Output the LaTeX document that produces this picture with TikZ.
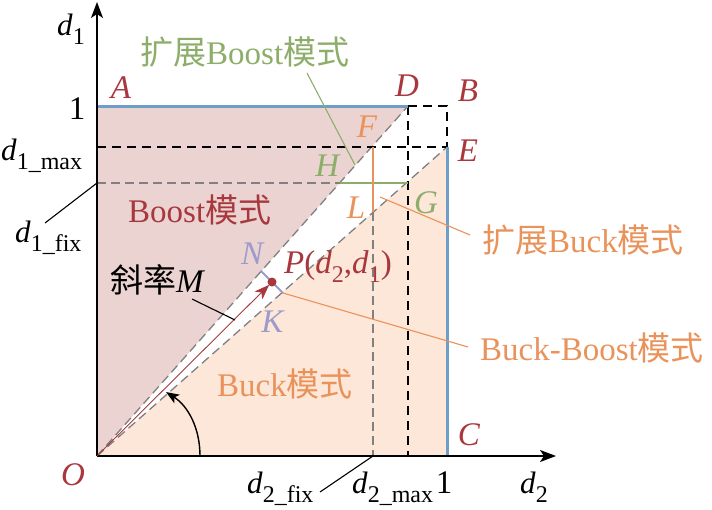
\documentclass[tikz,border=0pt]{standalone}
\usepackage{fontspec}
\setmainfont{Liberation Serif}
\newfontfamily\cjk{Noto Sans CJK SC}
\usetikzlibrary{arrows.meta}
\definecolor{bred}{HTML}{A8383E}
\definecolor{bgreen}{HTML}{8DAE6A}
\definecolor{borange}{HTML}{E9925A}
\definecolor{bpurple}{HTML}{9C9BCB}
\definecolor{bblue}{HTML}{6E9DC7}
\definecolor{fboost}{HTML}{EBD3D1}
\definecolor{fbuck}{HTML}{FCE7D9}
\definecolor{dgray}{HTML}{808080}
\newcommand{\vv}[2]{\textit{#1}\raisebox{-0.3em}{\fontsize{24}{24}\selectfont #2}}
\begin{document}
\begin{tikzpicture}[x=1pt,y=-1pt,
  lbl/.style={inner sep=0pt, font=\fontsize{33}{33}\selectfont},
  dvar/.style={inner sep=0pt, font=\fontsize{31}{31}\selectfont},
  graydash/.style={draw=dgray, line width=1.3pt, dash pattern=on 9pt off 5pt},
  blackdash/.style={draw=black, line width=1.5pt, dash pattern=on 9pt off 6pt},
  blueline/.style={draw=bblue, line width=3pt},
  axisline/.style={draw=black, line width=1.5pt, -{Stealth[length=16pt,width=12pt,inset=4pt]}},
  leader/.style={line width=1.1pt}]
\useasboundingbox (0,0) rectangle (712,509);
% key points
\coordinate (O) at (97,456);
\coordinate (A) at (97,106);
\coordinate (D) at (408,106);
\coordinate (B) at (447,106);
\coordinate (E) at (447,147);
\coordinate (C) at (447,456);
\coordinate (Ymax) at (97,147);
\coordinate (Yfix) at (97,183);
\coordinate (H) at (340,183);
\coordinate (G) at (408,183);
\coordinate (F) at (373,147);
\coordinate (L) at (373,212);
\coordinate (Xfix) at (373,456);
\coordinate (Xmax) at (408,456);
\coordinate (P) at (272,282);
\coordinate (N) at (260.5,270.5);
\coordinate (K) at (283,293);
\coordinate (Ytop) at (97,2);
\coordinate (Xend) at (556,456);
% regions
\fill[fboost] (O) -- (A) -- (D) -- cycle;
\fill[fbuck] (O) -- (E) -- (C) -- cycle;
% gray dashed
\draw[graydash] (O) -- (D);
\draw[graydash] (O) -- (E);
\draw[graydash] (Yfix) -- (H);
\draw[graydash] (L) -- (Xfix);
% black dashed
\draw[blackdash] (Ymax) -- (E);
\draw[blackdash] (D) -- (Xmax);
\draw[blackdash] (D) -- (B) -- (E);
% mode lines
\draw[draw=bgreen, line width=2.6pt] (H) -- (G);
\draw[draw=borange, line width=2.6pt] (F) -- (L);
% blue borders
\draw[blueline] (A) -- (D);
\draw[blueline] (E) -- (C);
% axes
\draw[axisline] (O) -- (Ytop);
\draw[axisline] (O) -- (Xend);
% slope arrow and point
\draw[draw=bred, line width=0.9pt, shorten >=4pt, -{Stealth[length=15pt,width=11pt,inset=4pt]}] (O) -- (P);
\draw[draw=bpurple, line width=1.8pt] (N) -- (K);
\fill[bred] (P) circle (4.5pt);
% angle arc
\coordinate (arcS) at (200,456);
\coordinate (arcE) at (166,392);
\draw[line width=1.4pt, -{Stealth[length=13pt,width=10pt,inset=3pt]}] (arcS) .. controls (200,428) and (188,406) .. (arcE);
% leaders
\coordinate (gl1) at (307,73);
\coordinate (gl2) at (355,165);
\draw[bgreen, leader] (gl1) -- (gl2);
\coordinate (ob1) at (380,197);
\coordinate (ob2) at (470,235);
\draw[borange, leader] (ob1) -- (ob2);
\coordinate (bb2) at (468,347);
\draw[borange, leader] (K) -- (bb2);
\coordinate (m1) at (192,299);
\coordinate (m2) at (235,320);
\draw[black, leader] (m1) -- (m2);
\coordinate (f1) at (45,223);
\draw[black, leader] (f1) -- (Yfix);
\coordinate (f2) at (320,492);
\draw[black, leader] (f2) -- (Xfix);
% point labels
\node[lbl, text=bred] (lA) at (121,88) {\textit{A}};
\node[lbl, text=bred] (lD) at (407,86) {\textit{D}};
\node[lbl, text=bred] (lB) at (468,91) {\textit{B}};
\node[lbl, text=bred] (lE) at (468,151) {\textit{E}};
\node[lbl, text=bred] (lC) at (469,435) {\textit{C}};
\node[lbl, text=bred] (lO) at (73,475) {\textit{O}};
\node[lbl, text=borange] (lF) at (367,127) {\textit{F}};
\node[lbl, text=bgreen] (lH) at (328,166) {\textit{H}};
\node[lbl, text=borange] (lL) at (356,208) {\textit{L}};
\node[lbl, text=bgreen] (lG) at (426,203) {\textit{G}};
\node[lbl, text=bpurple] (lN) at (253,254) {\textit{N}};
\node[lbl, text=bpurple] (lK) at (273,322) {\textit{K}};
\node[lbl, text=bred, anchor=base west] (lP) at (284,273) {\textit{P}(\vv{d}{2},\vv{d}{1})};
% axis labels
\node[dvar, anchor=base west] (ld1) at (57,35) {\vv{d}{1}};
\node[lbl] (l1y) at (77,109) {1};
\node[dvar, anchor=base west] (ld1max) at (1,160) {\vv{d}{1\_max}};
\node[dvar, anchor=base west] (ld1fix) at (15,242) {\vv{d}{1\_fix}};
\node[dvar, anchor=base west] (ld2fix) at (247,493) {\vv{d}{2\_fix}};
\node[dvar, anchor=base west] (ld2max) at (352,493) {\vv{d}{2\_max}};
\node[lbl] (l1x) at (444,483) {1};
\node[dvar, anchor=base west] (ld2) at (520,493) {\vv{d}{2}};
% mode labels
\node[lbl, text=bgreen, anchor=base west] (tEBoost) at (140,64) {{\cjk 扩展}Boost{\cjk 模式}};
\node[lbl, text=bred, anchor=base west] (tBoost) at (128,222) {Boost{\cjk 模式}};
\node[lbl, text=borange, anchor=base west] (tBuck) at (217,396) {Buck{\cjk 模式}};
\node[lbl, text=borange, anchor=base west] (tEBuck) at (482,252) {{\cjk 扩展}Buck{\cjk 模式}};
\node[lbl, text=borange, anchor=base west] (tBB) at (480,360) {Buck-Boost{\cjk 模式}};
\node[lbl, anchor=base west] (tM) at (110,292) {{\cjk 斜率}\textit{M}};
\end{tikzpicture}
\end{document}
